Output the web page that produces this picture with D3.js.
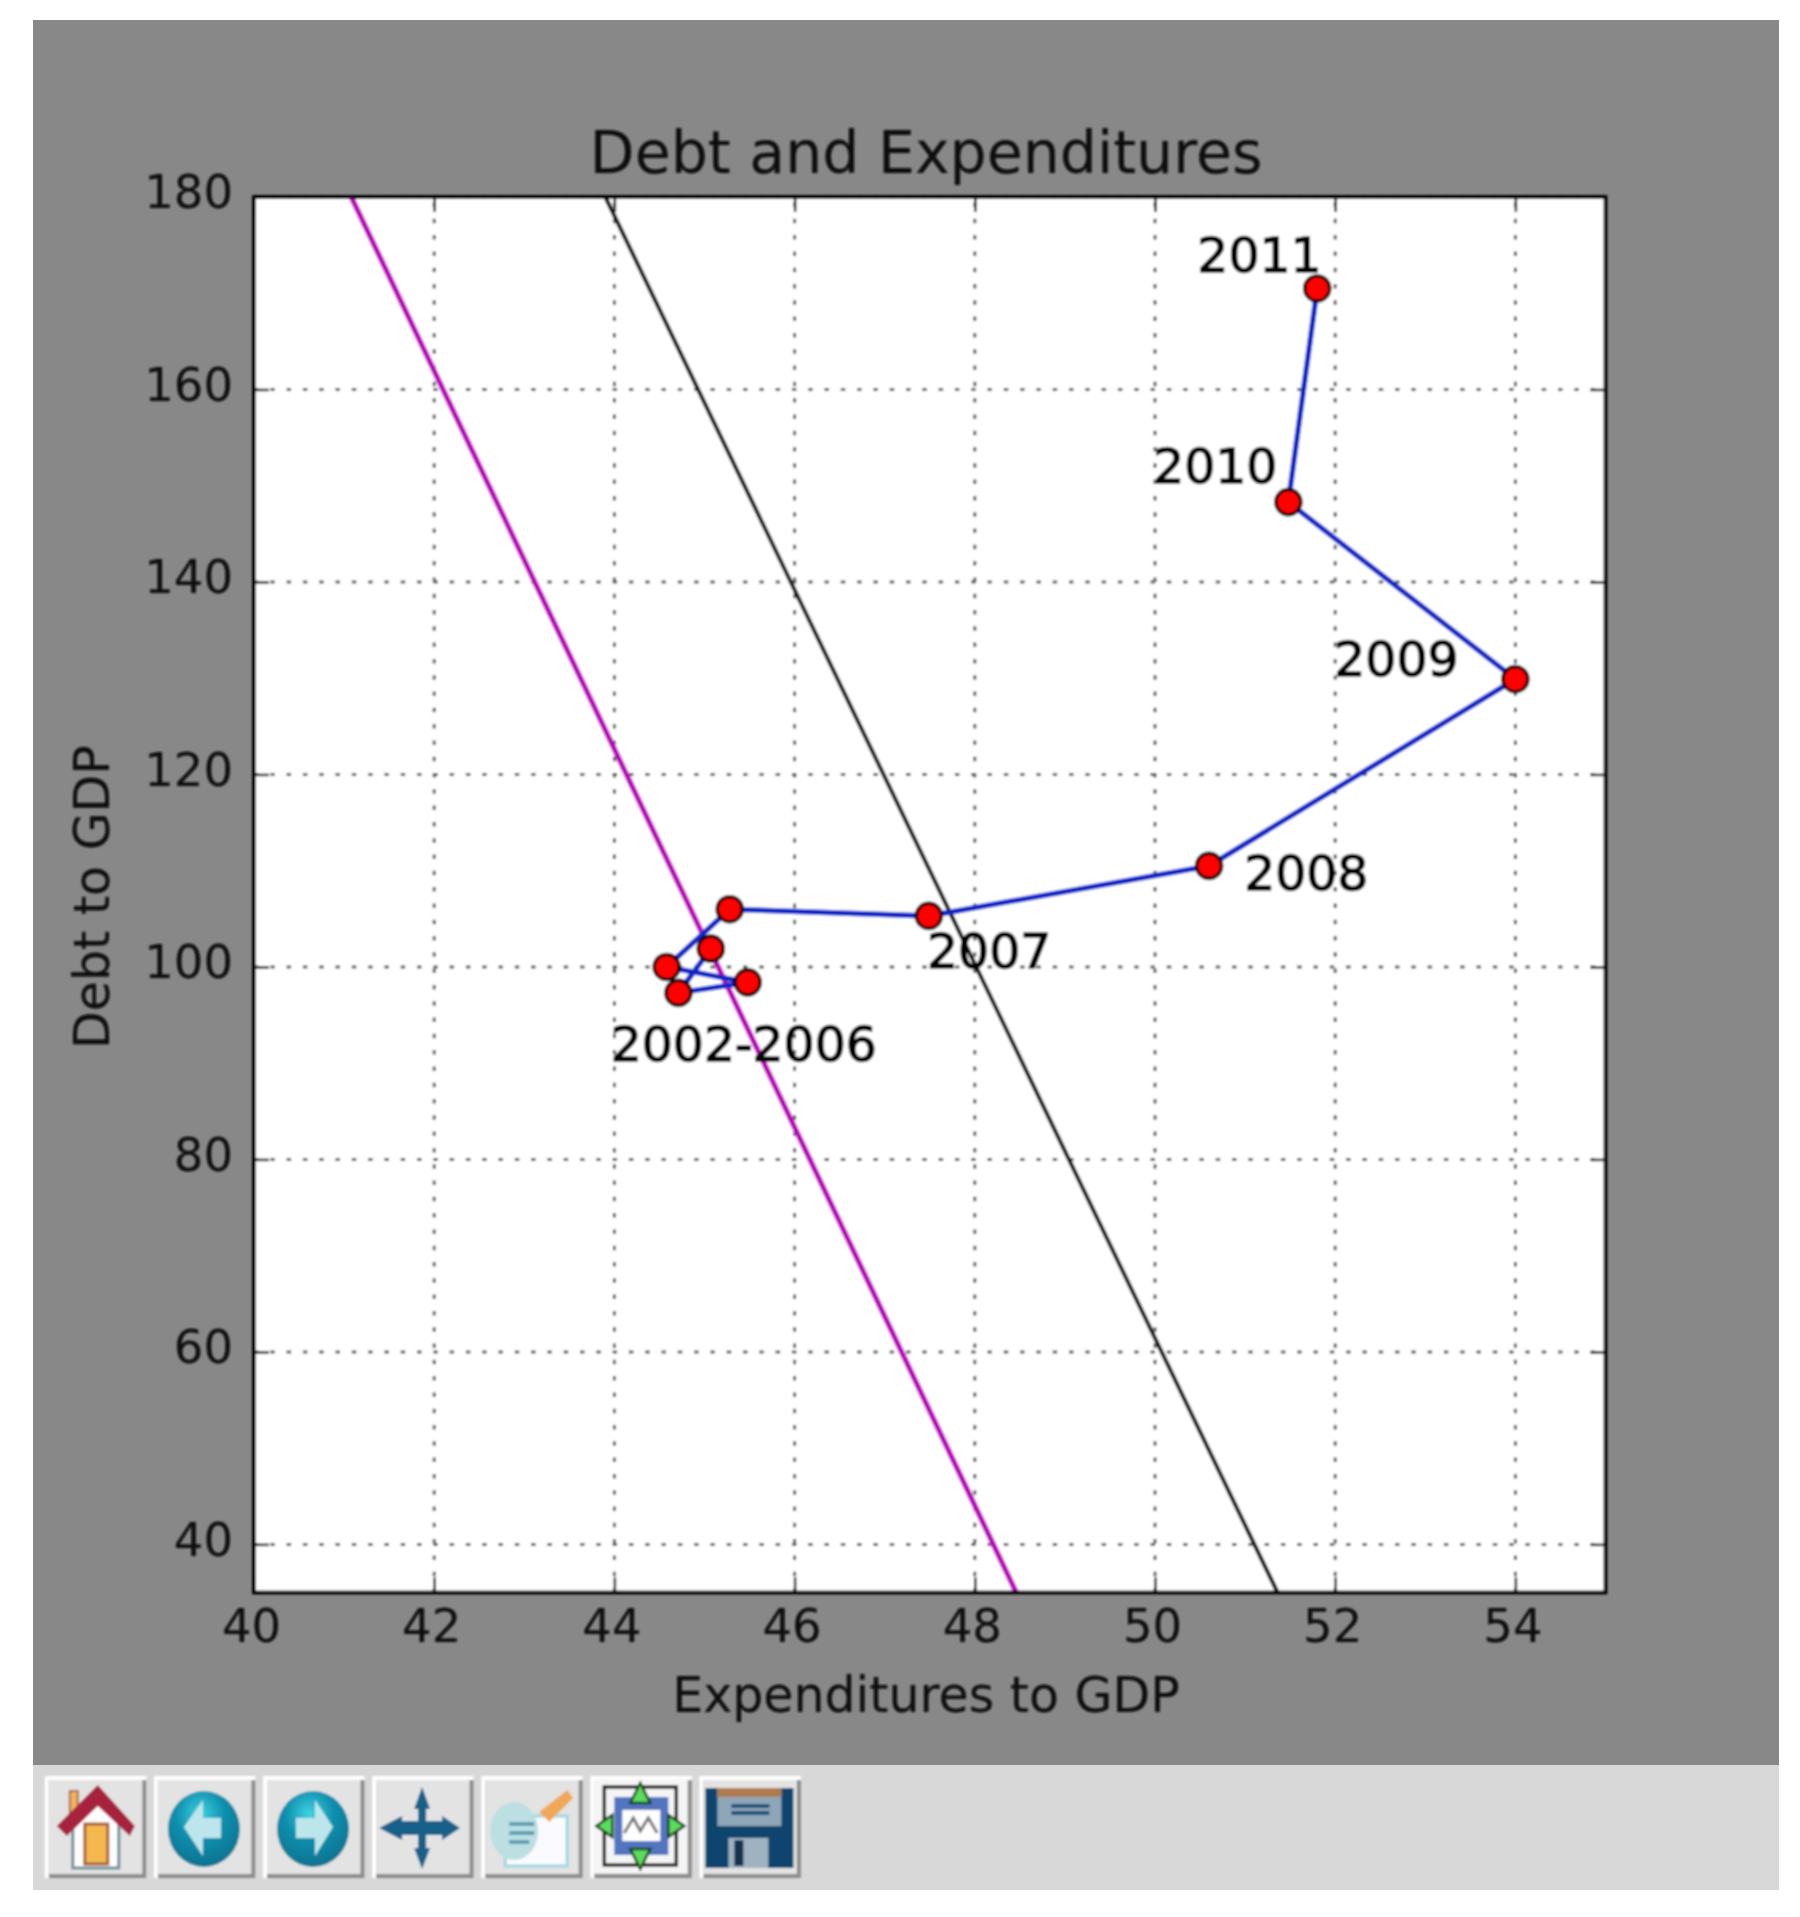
<!DOCTYPE html>
<html><head><meta charset="utf-8">
<script src="https://cdnjs.cloudflare.com/ajax/libs/d3/7.8.5/d3.min.js"></script>
<style>html,body{margin:0;padding:0;background:#fff}svg{display:block}text{font-family:"DejaVu Sans"}</style>
</head><body><div id="c"></div>
<script>
// ---- data ----
const expenditures = [45.07, 44.71, 45.48, 44.58, 45.28, 47.49, 50.6, 54.0, 51.48, 51.8];
const debt = [101.9, 97.3, 98.4, 100.0, 106.0, 105.3, 110.5, 129.9, 148.3, 170.5];
const labels = ["2011", "2010", "2009", "2008", "2007", "2002-2006"];
const labelX = [50.47, 49.98, 51.99, 50.99, 47.47, 43.96];
const labelY = [172.2, 150.3, 130.2, 108.0, 99.9, 90.2];
const magentaX = [41.08, 48.46], magentaY = [180, 35];
const blackX = [43.9, 51.36], blackY = [180, 35];
const xTicks = [40, 42, 44, 46, 48, 50, 52, 54];
const yTicks = [40, 60, 80, 100, 120, 140, 160, 180];
const xDomain = [40, 55], yDomain = [35, 180];
const titleText = "Debt and Expenditures", xLabelText = "Expenditures to GDP", yLabelText = "Debt to GDP";
const toolbarIcons = ["home", "back", "forward", "move", "edit", "subplots", "save"];

// ---- layout ----
const W = 1800, H = 1917;
const ax = {l: 254, r: 1605.5, t: 197, b: 1592.5};
const svg = d3.select("#c").append("svg").attr("width", W).attr("height", H);
const defs = svg.append("defs");
const soft = defs.append("filter").attr("id", "soft").attr("x", "-5%").attr("y", "-5%").attr("width", "110%").attr("height", "110%");
soft.append("feGaussianBlur").attr("stdDeviation", 0.8);
const softIcon = defs.append("filter").attr("id", "softIcon");
softIcon.append("feGaussianBlur").attr("stdDeviation", 1.1);
defs.append("clipPath").attr("id", "plotClip").append("rect")
  .attr("x", ax.l).attr("y", ax.t).attr("width", ax.r - ax.l).attr("height", ax.b - ax.t);
const grad = defs.append("radialGradient").attr("id", "ball").attr("cx", "45%").attr("cy", "30%").attr("r", "75%");
grad.append("stop").attr("offset", "0").attr("stop-color", "#3fd2e2");
grad.append("stop").attr("offset", "0.45").attr("stop-color", "#0f8fae");
grad.append("stop").attr("offset", "1").attr("stop-color", "#0b6f8c");

function box(s, bx, by, bw, bh, fill, stroke, sw) {
  const r = s.append("rect").attr("x", bx).attr("y", by).attr("width", bw).attr("height", bh).attr("fill", fill);
  if (stroke) r.attr("stroke", stroke).attr("stroke-width", sw);
  return r;
}
function shape(s, d, fill, stroke, sw) {
  const p = s.append("path").attr("d", d).attr("fill", fill);
  if (stroke) p.attr("stroke", stroke).attr("stroke-width", sw);
  return p;
}
function oval(s, cx, cy, rx, ry, fill) {
  return s.append("ellipse").attr("cx", cx).attr("cy", cy).attr("rx", rx).attr("ry", ry).attr("fill", fill);
}

box(svg, 33, 20, 1746, 1745, "#888888");
box(svg, 33, 1765, 1746, 125, "#d8d8d8");

const g = svg.append("g").attr("filter", "url(#soft)");
const x = d3.scaleLinear().domain(xDomain).range([ax.l, ax.r]);
const y = d3.scaleLinear().domain(yDomain).range([ax.b, ax.t]);

box(g, ax.l, ax.t, ax.r - ax.l, ax.b - ax.t, "#fff");

// grid
const grid = g.append("g").attr("stroke", "#555").attr("stroke-width", 3).attr("stroke-dasharray", "4.5 11.8");
grid.selectAll("line.v").data(xTicks.slice(1)).join("line").attr("class", "v")
  .attr("x1", d => x(d)).attr("x2", d => x(d)).attr("y1", ax.b).attr("y2", ax.t);
grid.selectAll("line.h").data(yTicks).join("line").attr("class", "h")
  .attr("x1", ax.l).attr("x2", ax.r).attr("y1", d => y(d)).attr("y2", d => y(d));

// plot
const plot = g.append("g").attr("clip-path", "url(#plotClip)");
const lineGen = d3.line().x(d => x(d[0])).y(d => y(d[1]));
shape(plot, lineGen(d3.zip(magentaX, magentaY)), "none", "#bb00bb", 5.6);
shape(plot, lineGen(d3.zip(blackX, blackY)), "none", "#111", 4.2);
const pts = d3.zip(expenditures, debt);
shape(plot, lineGen(pts), "none", "#0a28c8", 5.4);
plot.selectAll("circle").data(pts).join("circle")
  .attr("cx", d => x(d[0])).attr("cy", d => y(d[1])).attr("r", 12.6)
  .attr("fill", "#ff0000").attr("stroke", "#000").attr("stroke-width", 3.4);

// annotations
g.selectAll("text.ann").data(labels).join("text").attr("class", "ann")
  .attr("x", (d, i) => x(labelX[i])).attr("y", (d, i) => y(labelY[i]))
  .attr("font-size", 48.8).attr("fill", "#000").attr("stroke", "#000").attr("stroke-width", 1.6).text(d => d);

// axes with inward ticks
const tickLen = 15;
const fmt = d3.format("d");
function style(sel) {
  sel.select(".domain").remove();
  sel.selectAll(".tick line").attr("stroke", "#111").attr("stroke-width", 2.5);
  sel.selectAll(".tick text").attr("fill", "#0a0a0a").attr("font-size", 46.5).attr("font-family", "DejaVu Sans");
}
const xAxisG = g.append("g").attr("transform", `translate(0,${ax.b})`)
  .call(d3.axisBottom(x).tickValues(xTicks).tickFormat(fmt).tickSizeInner(-tickLen).tickSizeOuter(0).tickPadding(16)).call(style);
xAxisG.selectAll(".tick text").attr("dx", -3);
const yAxisG = g.append("g").attr("transform", `translate(${ax.l},0)`)
  .call(d3.axisLeft(y).tickValues(yTicks).tickFormat(fmt).tickSizeInner(-tickLen).tickSizeOuter(0).tickPadding(21)).call(style);
yAxisG.selectAll(".tick text").attr("dy", "0.23em");
g.append("g").attr("transform", `translate(0,${ax.t})`)
  .call(d3.axisTop(x).tickValues(xTicks).tickFormat("").tickSizeInner(-tickLen).tickSizeOuter(0)).call(style);
g.append("g").attr("transform", `translate(${ax.r},0)`)
  .call(d3.axisRight(y).tickValues(yTicks).tickFormat("").tickSizeInner(-tickLen).tickSizeOuter(0)).call(style);

box(g, ax.l, ax.t, ax.r - ax.l, ax.b - ax.t, "none", "#000", 3.8);

// titles
g.append("text").attr("x", 926).attr("y", 173).attr("text-anchor", "middle").attr("font-size", 58.5).attr("fill", "#0a0a0a").text(titleText);
g.append("text").attr("x", 926).attr("y", 1712).attr("text-anchor", "middle").attr("font-size", 49).attr("fill", "#0a0a0a").text(xLabelText);
g.append("text").attr("transform", "translate(109,897) rotate(-90)").attr("text-anchor", "middle").attr("font-size", 49).attr("fill", "#0a0a0a").text(yLabelText);

// ---- toolbar ----
const bar = svg.append("g");
const draw = {
  home(s) {
    box(s, 25, 15, 8, 28, "#f2b35a", "#a86a50", 2);
    shape(s, "M28 92V42L52 20L74 42V92Z", "#fff", "#6f8f96", 3);
    box(s, 40, 48, 23, 40, "#f5b84f", "#a5603c", 3);
    shape(s, "M53 9L90 50L85 60L53 30L22 60L12 50Z", "#a6203e");
  },
  back(s) {
    oval(s, 50, 53, 36, 38, "url(#ball)");
    shape(s, "M30 51L49 24V42H67V62H49V80Z", "#bde6ec");
  },
  forward(s) {
    oval(s, 50, 53, 36, 38, "url(#ball)");
    shape(s, "M70 51L52 24V42H33V62H52V80Z", "#bde6ec");
  },
  move(s) {
    shape(s, "M50 11L58 33H54V45H70V40L88 52L70 64V59H54V72H58L50 93L42 72H46V59H30V64L7 52L30 40V45H46V33H42Z", "#15608a");
  },
  edit(s) {
    box(s, 24, 40, 62, 50, "#fbfbff", "#9fd6df", 3);
    oval(s, 33, 55, 24, 29, "#bcdfe2");
    shape(s, "M28 48H53M28 57H53M28 66H48", "none", "#5f9fb4", 4);
    shape(s, "M58 36L86 14L92 22L68 46Z", "#f0a858");
  },
  subplots(s) {
    box(s, 3, 3, 94, 94, "#f5f5f5");
    box(s, 14, 11, 72, 78, "none", "#222", 3.5);
    box(s, 24, 21, 54, 58, "#5275c0");
    box(s, 32, 34, 38, 31, "#fff");
    shape(s, "M34 57L43 42L50 55L58 42L67 57", "none", "#777", 3);
    shape(s, "M50 7L60 27H40ZM50 93L60 73H40ZM6 50L22 39V61ZM94 50L78 39V61Z", "#5cdc5c", "#14401a", 2.5);
  },
  save(s) {
    shape(s, "M6 12H94V92H6Z", "#07456e");
    box(s, 18, 12, 64, 38, "#8fa6b8");
    box(s, 18, 12, 64, 9, "#b07a50");
    shape(s, "M32 30H70M32 37H70", "none", "#1a4f78", 4);
    box(s, 29, 62, 40, 30, "#9fb2c0");
    box(s, 35, 64, 9, 26, "#16324f");
  }
};
const btnW = 101.5, btnH = 102, pitch = 109.1;
toolbarIcons.forEach((name, i) => {
  const b = bar.append("g").attr("transform", `translate(${44.8 + i * pitch},1776)`).attr("filter", "url(#softIcon)");
  box(b, 0, 0, btnW, btnH, "#fff");
  box(b, 4, 4, btnW - 4, btnH - 4, "#8c8c8c");
  box(b, 4, 4, btnW - 8, btnH - 8, "#e3e3e3");
  draw[name](b.append("g"));
});
</script></body></html>
